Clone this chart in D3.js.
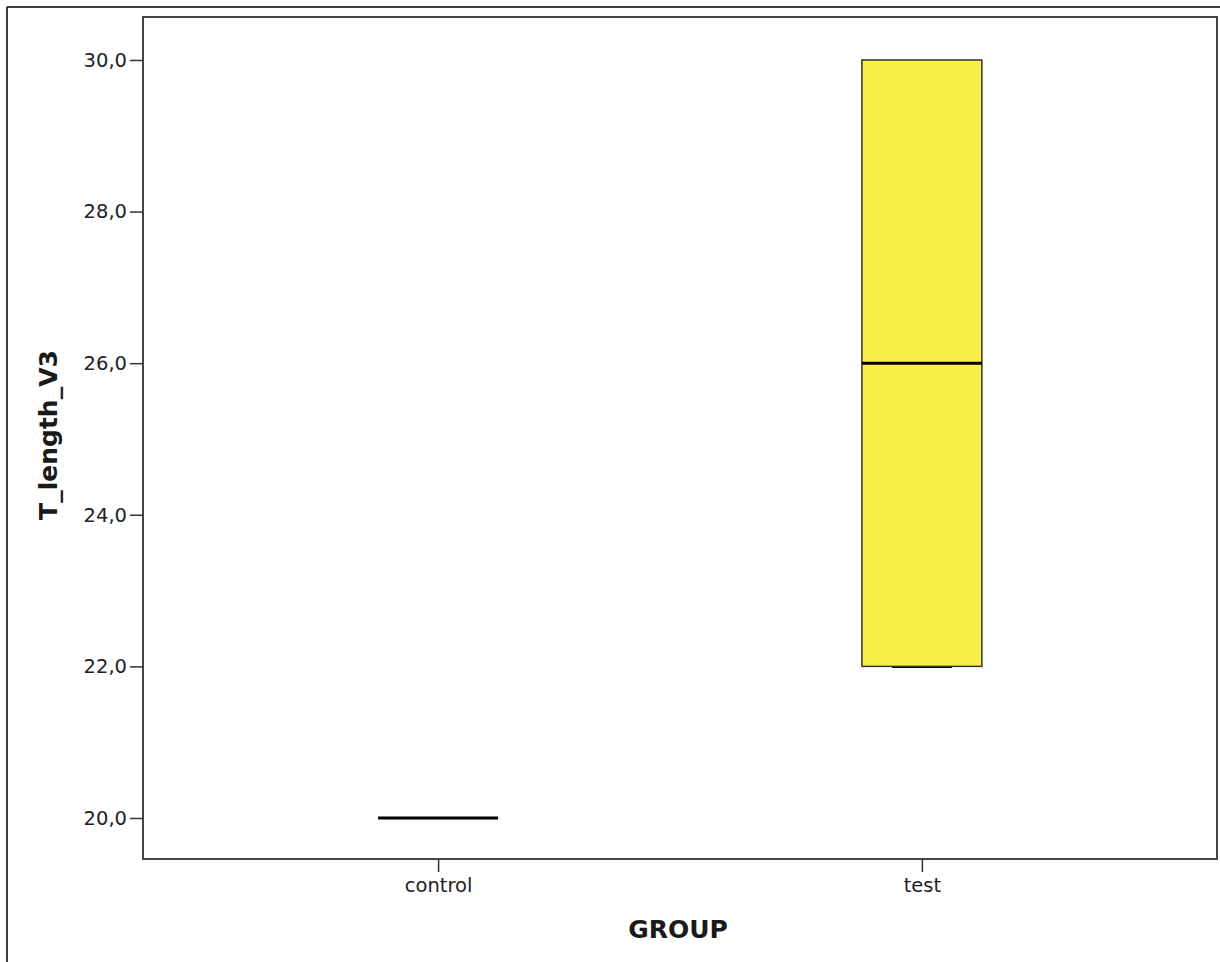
<!DOCTYPE html>
<html>
<head>
<meta charset="utf-8">
<script src="https://cdn.jsdelivr.net/npm/d3@7"></script>
<style>
  body { margin: 0; background: #fff; }
  text { font-family: "DejaVu Sans", sans-serif; }
</style>
</head>
<body>
<div id="chart"></div>
<script>
// groups and box statistics
var groups = ["control", "test"];
var mins = [20, 22];
var q1s = [20, 22];
var medians = [20, 26];
var q3s = [20, 30];
var maxs = [20, 30];
var yTicks = [20, 22, 24, 26, 28, 30];

var W = 1220, H = 962;
var margin = {top: 17, right: 3, bottom: 103, left: 143},
    width = W - margin.left - margin.right,
    height = H - margin.top - margin.bottom;

var svg = d3.select("#chart").append("svg")
    .attr("width", W).attr("height", H);

// outer frame (top and left only)
svg.append("line").attr("x1", 7).attr("y1", 7).attr("x2", W).attr("y2", 7)
  .attr("stroke", "#000").attr("stroke-width", 1.5);
svg.append("line").attr("x1", 7).attr("y1", 7).attr("x2", 7).attr("y2", H)
  .attr("stroke", "#000").attr("stroke-width", 1.5);

var g = svg.append("g").attr("transform", "translate(" + margin.left + "," + margin.top + ")");

var x = d3.scalePoint().domain(groups).range([0, width]).padding(0.61);
var y = d3.scaleLinear().domain([19.459, 30.567]).range([height, 0]);

var boxW = x.step() * 0.248;
var fmt = function(d) { return d3.format(".1f")(d).replace(".", ","); };

// plot frame
g.append("rect").attr("width", width).attr("height", height)
  .attr("fill", "none").attr("stroke", "#444").attr("stroke-width", 2);

// y axis
var ya = g.append("g").call(d3.axisLeft(y).tickValues(yTicks).tickFormat(fmt).tickSize(13).tickPadding(3));
ya.select(".domain").remove();
ya.selectAll(".tick line").attr("stroke", "#333").attr("stroke-width", 1.5);
ya.selectAll(".tick text").attr("fill", "#222").style("font-size", "19.5px");

// x axis
var xa = g.append("g").attr("transform", "translate(0," + height + ")")
  .call(d3.axisBottom(x).tickSize(13).tickPadding(6));
xa.select(".domain").remove();
xa.selectAll(".tick line").attr("stroke", "#333").attr("stroke-width", 1.5);
xa.selectAll(".tick text").attr("fill", "#222").style("font-size", "19.5px");

// boxes
groups.forEach(function(grp, i) {
  var cx = x(grp);
  // whiskers and caps, drawn under the box
  g.append("line").attr("x1", cx).attr("x2", cx).attr("y1", y(maxs[i])).attr("y2", y(q3s[i]))
    .attr("stroke", "#000").attr("stroke-width", 1.5);
  g.append("line").attr("x1", cx).attr("x2", cx).attr("y1", y(q1s[i])).attr("y2", y(mins[i]))
    .attr("stroke", "#000").attr("stroke-width", 1.5);
  if (q3s[i] > q1s[i]) {
    g.append("line").attr("x1", cx - boxW / 4).attr("x2", cx + boxW / 4)
      .attr("y1", y(mins[i]) + 0.5).attr("y2", y(mins[i]) + 0.5)
      .attr("stroke", "#000").attr("stroke-width", 2);
    g.append("rect").attr("x", cx - boxW / 2).attr("width", boxW)
      .attr("y", y(q3s[i])).attr("height", y(q1s[i]) - y(q3s[i]))
      .attr("fill", "#f8ef4b").attr("stroke", "#333").attr("stroke-width", 1.5);
  }
  // median
  g.append("line").attr("x1", cx - boxW / 2).attr("x2", cx + boxW / 2)
    .attr("y1", y(medians[i])).attr("y2", y(medians[i]))
    .attr("stroke", "#000").attr("stroke-width", 3);
});

// axis titles
svg.append("text").attr("x", 678).attr("y", 938)
  .attr("text-anchor", "middle").style("font-size", "25px").style("font-weight", "bold")
  .attr("fill", "#1a1a1a").text("GROUP");
svg.append("text").attr("transform", "translate(57,435) rotate(-90)")
  .attr("text-anchor", "middle").style("font-size", "25px").style("font-weight", "bold")
  .attr("fill", "#1a1a1a").text("T_length_V3");
</script>
</body>
</html>
